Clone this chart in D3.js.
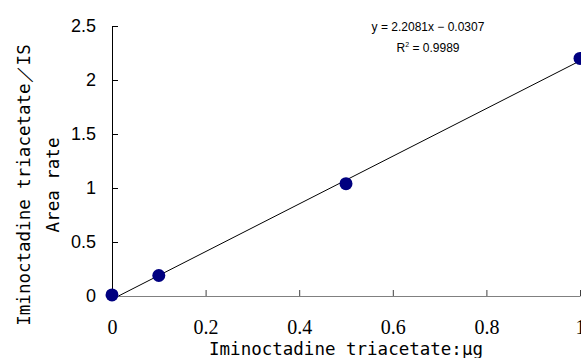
<!DOCTYPE html>
<html>
<head>
<meta charset="utf-8">
<script src="https://cdn.jsdelivr.net/npm/d3@7"></script>
<style>
  body { margin: 0; background: #fff; }
  svg { display: block; }
</style>
</head>
<body>
<svg id="chart" width="581" height="358"></svg>
<script>
// data
var amounts = [0, 0.1, 0.5, 1.0];
var areaRates = [0.01, 0.19, 1.04, 2.2];
var xTicks = [0, 0.2, 0.4, 0.6, 0.8, 1];
var yTicks = [0, 0.5, 1, 1.5, 2, 2.5];
var slope = 2.2081;
var intercept = -0.0307;
var equationText = "y = 2.2081x \u2212 0.0307";
var rSquaredText = " = 0.9989";

var svg = d3.select("#chart");
var margin = { left: 112, right: 1, top: 26, bottom: 62 };
var width = 581, height = 358;
var titleFont = "'DejaVu Sans Mono', 'Liberation Mono', monospace";

var xScale = d3.scaleLinear().domain([0, 1]).range([margin.left, width - margin.right]);
var yScale = d3.scaleLinear().domain([0, 2.5]).range([height - margin.bottom, margin.top]);

// x axis (gray line, ticks pointing inward)
var xAxis = svg.append("g")
    .attr("transform", "translate(0," + yScale(0) + ")")
    .call(d3.axisTop(xScale).tickValues(xTicks).tickSize(6).tickSizeOuter(0).tickFormat(function (d) { return d; }));
xAxis.select(".domain").attr("stroke", "#808080");
xAxis.selectAll(".tick line").attr("stroke", "#404040");
xAxis.selectAll(".tick text")
    .attr("y", 0)
    .attr("dy", "1.9em")
    .attr("font-family", "'Liberation Serif', 'DejaVu Serif', serif")
    .attr("font-size", 20)
    .attr("fill", "#000");

// y axis (black line, ticks pointing inward)
var yAxis = svg.append("g")
    .attr("transform", "translate(" + xScale(0) + ",0)")
    .call(d3.axisRight(yScale).tickValues(yTicks).tickSize(6).tickSizeOuter(0).tickFormat(function (d) { return d; }));
yAxis.select(".domain").attr("stroke", "#000");
yAxis.selectAll(".tick text")
    .attr("x", -16)
    .attr("text-anchor", "end")
    .attr("font-family", "Arial, 'Liberation Sans', sans-serif")
    .attr("font-size", 18)
    .attr("fill", "#000");

// trend line
var xStart = -intercept / slope;
var trend = [xStart, 1].map(function (x) { return [x, slope * x + intercept]; });
svg.append("path")
    .attr("fill", "none")
    .attr("stroke", "#000")
    .attr("stroke-width", 1)
    .attr("d", d3.line()
        .x(function (d) { return xScale(d[0]); })
        .y(function (d) { return yScale(d[1]); })(trend));

// points
svg.selectAll("circle.dot")
    .data(amounts)
    .enter().append("circle")
    .attr("class", "dot")
    .attr("cx", function (d) { return xScale(d); })
    .attr("cy", function (d, i) { return yScale(areaRates[i]); })
    .attr("r", 6.5)
    .attr("fill", "#000080");

// equation
svg.append("text")
    .attr("x", 428).attr("y", 31)
    .attr("text-anchor", "middle")
    .attr("font-family", "Arial, 'Liberation Sans', sans-serif")
    .attr("font-size", 12)
    .text(equationText);
var r2 = svg.append("text")
    .attr("x", 428).attr("y", 52)
    .attr("text-anchor", "middle")
    .attr("font-family", "Arial, 'Liberation Sans', sans-serif")
    .attr("font-size", 12);
r2.append("tspan").text("R");
r2.append("tspan").attr("font-size", 7).attr("dy", -5).text("2");
r2.append("tspan").attr("dy", 5).text(rSquaredText);

// axis titles
svg.append("text")
    .attr("x", 346).attr("y", 355)
    .attr("text-anchor", "middle")
    .attr("font-family", titleFont)
    .attr("font-size", 17.5)
    .text("Iminoctadine triacetate:\u03bcg");

var yTitle = svg.append("text")
    .attr("transform", "translate(30,185) rotate(-90)")
    .attr("text-anchor", "middle")
    .attr("font-family", titleFont)
    .attr("font-size", 17.5);
yTitle.append("tspan").attr("x", 0).attr("y", 0).text("Iminoctadine triacetate\uff0fIS");
yTitle.append("tspan").attr("x", 0).attr("y", 29).text("Area rate");
</script>
</body>
</html>
